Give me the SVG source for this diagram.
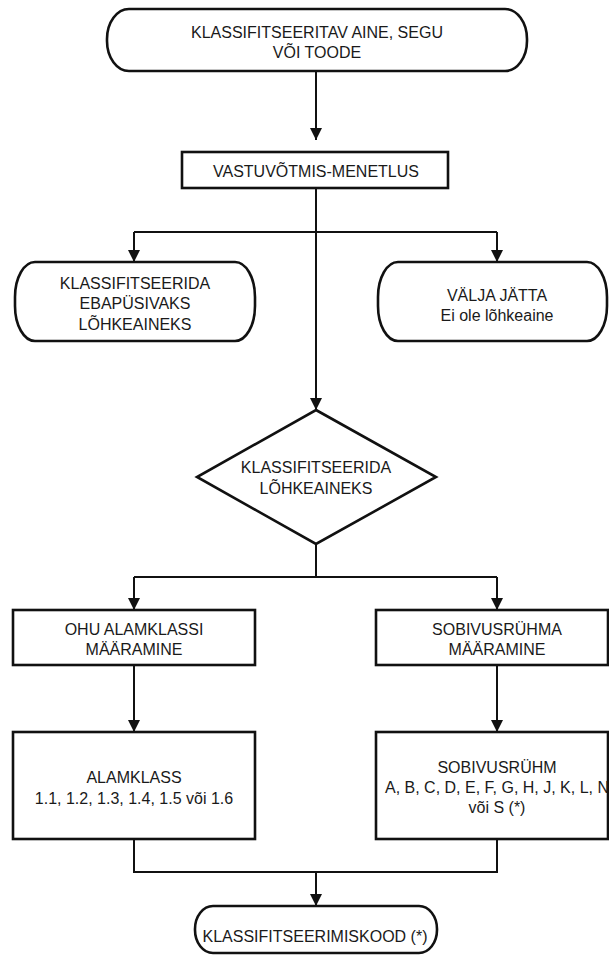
<svg xmlns="http://www.w3.org/2000/svg" width="609" height="958" viewBox="0 0 609 958">
<defs>
<marker id="ah" markerUnits="userSpaceOnUse" markerWidth="12" markerHeight="12" viewBox="0 0 12 12" refX="12" refY="6" orient="auto">
<path d="M0,0 L12,6 L0,12 z" fill="#111"/>
</marker>
<style>
.n{fill:#fff;stroke:#111;stroke-width:2.6}
.c{fill:none;stroke:#111;stroke-width:2}
.t{font-family:"Liberation Sans",Arial,sans-serif;font-size:16px;fill:#1a1a1a;text-anchor:middle}
</style>
</defs>
<rect width="609" height="958" fill="#fff"/>
<g id="connectors">
<path class="c" d="M316,71 V140" marker-end="url(#ah)"/>
<path class="c" d="M316,188 V410" marker-end="url(#ah)"/>
<path class="c" d="M134,232 H497"/>
<path class="c" d="M134,232 V262" marker-end="url(#ah)"/>
<path class="c" d="M497,232 V262" marker-end="url(#ah)"/>
<path class="c" d="M316,544 V577"/>
<path class="c" d="M134,577 H497"/>
<path class="c" d="M134,577 V610" marker-end="url(#ah)"/>
<path class="c" d="M497,577 V610" marker-end="url(#ah)"/>
<path class="c" d="M134,665 V732" marker-end="url(#ah)"/>
<path class="c" d="M497,665 V732" marker-end="url(#ah)"/>
<path class="c" d="M134,839 V872 H497 V839"/>
<path class="c" d="M316,872 V906" marker-end="url(#ah)"/>
</g>
<g id="n1">
<rect class="n" x="107" y="9" width="420" height="62" rx="22" ry="30"/>
<text class="t" x="317" y="38">KLASSIFITSEERITAV AINE, SEGU</text>
<text class="t" x="317" y="58">VÕI TOODE</text>
</g>
<g id="n2">
<rect class="n" x="182" y="152" width="266" height="36"/>
<text class="t" x="316" y="177">VASTUVÕTMIS-MENETLUS</text>
</g>
<g id="n3">
<rect class="n" x="15" y="262" width="240" height="79" rx="20" ry="35"/>
<text class="t" x="135" y="289">KLASSIFITSEERIDA</text>
<text class="t" x="135" y="309">EBAPÜSIVAKS</text>
<text class="t" x="135" y="330">LÕHKEAINEKS</text>
</g>
<g id="n4">
<rect class="n" x="378" y="262" width="229" height="79" rx="20" ry="35"/>
<text class="t" x="497" y="301">VÄLJA JÄTTA</text>
<text class="t" x="497" y="321">Ei ole lõhkeaine</text>
</g>
<g id="n5">
<polygon class="n" points="316,410 436,477 316,544 197,477"/>
<text class="t" x="316" y="473">KLASSIFITSEERIDA</text>
<text class="t" x="316" y="494">LÕHKEAINEKS</text>
</g>
<g id="n6">
<rect class="n" x="13" y="610" width="242" height="55"/>
<text class="t" x="134" y="635">OHU ALAMKLASSI</text>
<text class="t" x="134" y="655">MÄÄRAMINE</text>
</g>
<g id="n7">
<rect class="n" x="376" y="610" width="232" height="55"/>
<text class="t" x="497" y="635">SOBIVUSRÜHMA</text>
<text class="t" x="497" y="655">MÄÄRAMINE</text>
</g>
<g id="n8">
<rect class="n" x="13" y="732" width="242" height="107"/>
<text class="t" x="134" y="783">ALAMKLASS</text>
<text class="t" x="134" y="804">1.1, 1.2, 1.3, 1.4, 1.5 või 1.6</text>
</g>
<g id="n9">
<rect class="n" x="376" y="732" width="232" height="107"/>
<text class="t" x="497" y="773">SOBIVUSRÜHM</text>
<text class="t" x="497" y="793">A, B, C, D, E, F, G, H, J, K, L, N</text>
<text class="t" x="497" y="813">või S (*)</text>
</g>
<g id="n10">
<rect class="n" x="195" y="906" width="242" height="47" rx="18" ry="23"/>
<text class="t" x="315" y="942">KLASSIFITSEERIMISKOOD (*)</text>
</g>
</svg>
